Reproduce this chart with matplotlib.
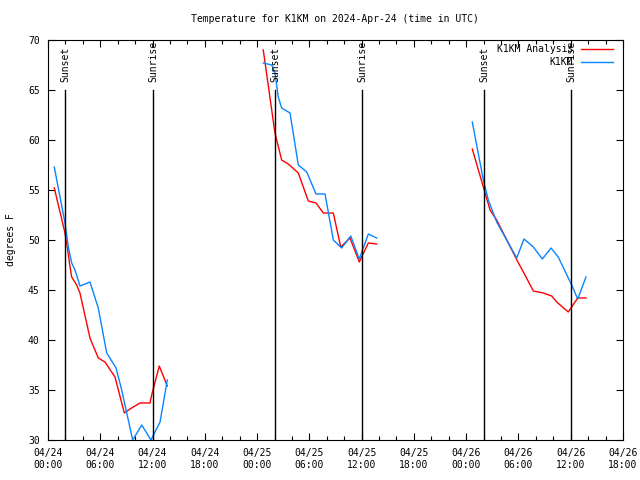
import datetime

import matplotlib
matplotlib.use('Agg')

import matplotlib.pyplot as plt
import matplotlib.dates as mdates

START = datetime.datetime(2024, 4, 24, 0, 0)

# hours after 04/24 00:00 UTC, one list per evening
ANALYSIS_HOURS = [
    [0.72, 1.95, 2.26, 2.53, 2.72, 3.29, 3.67, 4.05, 4.82, 5.77, 6.54,
     7.69, 8.76, 9.41, 10.56, 11.71, 11.9, 12.77, 13.69],
    [24.71, 26.05, 26.82, 27.58, 28.73, 29.88, 30.76, 31.6, 32.75, 33.6,
     34.66, 35.73, 36.77, 37.73],
    [48.7, 49.97, 50.74, 51.5, 54.0, 54.75, 55.71, 56.85, 57.82, 58.39,
     59.72, 60.8, 61.75],
]
ANALYSIS_TEMPS = [
    [55.2, 50.7, 49.0, 47.3, 46.3, 45.5, 44.7, 43.2, 40.2, 38.2, 37.8,
     36.3, 32.7, 33.1, 33.7, 33.7, 34.5, 37.4, 35.4],
    [69.0, 60.7, 58.0, 57.6, 56.7, 53.9, 53.7, 52.7, 52.7, 49.3,
     50.2, 47.8, 49.7, 49.6],
    [59.1, 55.3, 53.0, 52.0, 47.7, 46.5, 44.9, 44.7, 44.4, 43.8,
     42.8, 44.2, 44.2],
]

STATION_HOURS = [
    [0.72, 1.95, 2.33, 2.72, 3.10, 3.67, 4.82, 5.77, 6.74, 7.81, 8.46,
     9.72, 10.76, 11.82, 12.86, 13.69],
    [24.71, 25.68, 26.05, 26.43, 26.82, 27.78, 28.73, 29.7, 30.76, 31.8,
     32.75, 33.71, 34.75, 35.73, 36.77, 37.73],
    [48.7, 49.97, 50.54, 51.5, 53.8, 54.64, 55.71, 56.74, 57.74, 58.57,
     60.11, 60.8, 61.75],
]
STATION_TEMPS = [
    [57.3, 51.7, 49.3, 47.7, 47.0, 45.4, 45.8, 43.2, 38.7, 37.2, 35.0,
     30.0, 31.5, 30.0, 31.8, 36.0],
    [67.7, 67.5, 66.7, 64.3, 63.2, 62.7, 57.5, 56.8, 54.6, 54.6,
     50.0, 49.2, 50.4, 48.1, 50.6, 50.2],
    [61.8, 56.0, 54.0, 51.8, 48.2, 50.1, 49.3, 48.1, 49.2, 48.3,
     45.5, 44.1, 46.3],
]

SUN_EVENTS = [('Sunset', 1.95), ('Sunrise', 12.05),
              ('Sunset', 26.05), ('Sunrise', 36.04),
              ('Sunset', 50.05), ('Sunrise', 60.03)]

RED = '#ff0000'
BLUE = '#0a84ff'
FONT = 'DejaVu Sans Mono'


def to_dates(hours):
    return [START + datetime.timedelta(hours=h) for h in hours]


plt.rcParams['font.family'] = FONT
plt.rcParams['font.size'] = 7

fig = plt.figure(figsize=(6.4, 4.8), dpi=100)
ax = fig.add_axes([48 / 640, 40 / 480, 575 / 640, 400 / 480])

for hours, temps in zip(ANALYSIS_HOURS, ANALYSIS_TEMPS):
    ax.plot(to_dates(hours), temps, '-', color=RED, lw=1.0)
for hours, temps in zip(STATION_HOURS, STATION_TEMPS):
    ax.plot(to_dates(hours), temps, '-', color=BLUE, lw=1.0)

# sunset / sunrise markers
for name, h in SUN_EVENTS:
    when = START + datetime.timedelta(hours=h)
    ax.plot([when, when], [30, 65], color='k', lw=1.0)
    ax.text(when, 65.8, name, rotation=90, ha='center', va='bottom',
            fontsize=7)

ax.set_xlim(START, START + datetime.timedelta(hours=66))
ax.set_ylim(30, 70)
ax.set_yticks(range(30, 71, 5))

ax.xaxis.set_major_locator(mdates.HourLocator(byhour=[0, 6, 12, 18]))
ax.xaxis.set_minor_locator(mdates.HourLocator(byhour=range(0, 24, 2)))
ax.xaxis.set_major_formatter(mdates.DateFormatter('%m/%d\n%H:%M'))

ax.tick_params(which='both', direction='in', top=True, right=True,
               width=0.8, colors='k')
ax.tick_params(which='major', length=5)
ax.tick_params(which='minor', length=3)
ax.tick_params(axis='x', pad=6)
ax.tick_params(axis='y', pad=6)
for spine in ax.spines.values():
    spine.set_linewidth(0.8)

# gnuplot style key: text right aligned, sample line to the right
ax.text(0.913, 0.977, 'K1KM Analysis', transform=ax.transAxes,
        ha='right', va='center')
ax.plot([0.927, 0.983], [0.977, 0.977], color=RED, lw=1.0,
        transform=ax.transAxes, clip_on=False)
ax.text(0.913, 0.944, 'K1KM', transform=ax.transAxes,
        ha='right', va='center')
ax.plot([0.927, 0.983], [0.944, 0.944], color=BLUE, lw=1.0,
        transform=ax.transAxes, clip_on=False)

fig.text(335 / 640, 1 - 19 / 480,
         'Temperature for K1KM on 2024-Apr-24 (time in UTC)',
         ha='center', va='center')
fig.text(11 / 640, 0.5, 'degrees F', rotation=90, ha='center', va='center')

fig.savefig('out.png', dpi=100)
